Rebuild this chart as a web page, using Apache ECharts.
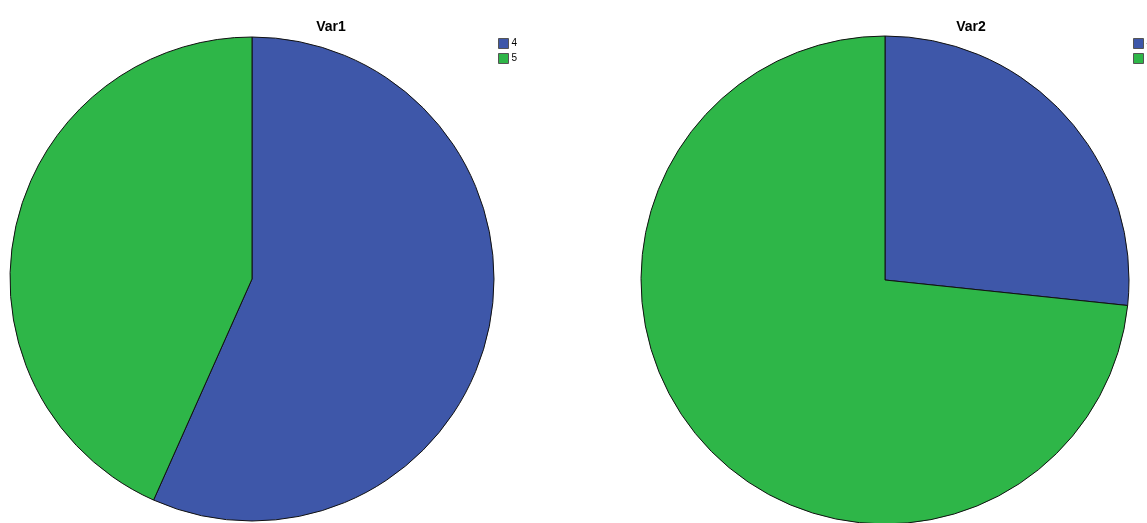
<!DOCTYPE html>
<html>
<head>
<meta charset="utf-8">
<style>
  html, body { margin: 0; padding: 0; background: #fff; }
  #chart { width: 1147px; height: 523px; }
</style>
<script src="https://cdn.jsdelivr.net/npm/echarts@6/dist/echarts.min.js"></script>
</head>
<body>
<div id="chart"></div>
<script>
// category labels and counts per variable
var categories = ['4', '5'];
var var1Counts = [17, 13];
var var2Counts = [8, 22];
var colors = ['#3e57a9', '#2eb648'];

(function() {
  var chart = echarts.init(document.getElementById('chart'), null, { renderer: 'canvas' });

  function pieData(counts) {
    return categories.map(function(c, i) {
      return { name: c, value: counts[i], itemStyle: { color: colors[i] } };
    });
  }

  function legend(left) {
    return {
      orient: 'vertical',
      left: left,
      top: 38,
      padding: 0,
      icon: 'rect',
      itemWidth: 10,
      itemHeight: 10,
      itemGap: 4,
      selectedMode: false,
      data: categories,
      itemStyle: { borderColor: '#555', borderWidth: 1 },
      textStyle: { fontFamily: 'Liberation Sans', fontSize: 10, color: '#000', padding: [0, 0, 0, -2] }
    };
  }

  chart.setOption({
    animation: false,
    title: [
      { text: 'Var1', left: 326, top: 15, textAlign: 'center',
        textStyle: { fontFamily: 'Liberation Sans', fontSize: 14, fontWeight: 'bold', color: '#000' } },
      { text: 'Var2', left: 966, top: 15, textAlign: 'center',
        textStyle: { fontFamily: 'Liberation Sans', fontSize: 14, fontWeight: 'bold', color: '#000' } }
    ],
    legend: [legend(498), legend(1133)],
    series: [
      {
        type: 'pie',
        center: [252, 279],
        radius: 242,
        startAngle: 90,
        clockwise: true,
        label: { show: false },
        labelLine: { show: false },
        emphasis: { disabled: true },
        itemStyle: { borderColor: '#111', borderWidth: 1 },
        data: pieData(var1Counts)
      },
      {
        type: 'pie',
        center: [885, 280],
        radius: 244,
        startAngle: 90,
        clockwise: true,
        label: { show: false },
        labelLine: { show: false },
        emphasis: { disabled: true },
        itemStyle: { borderColor: '#111', borderWidth: 1 },
        data: pieData(var2Counts)
      }
    ]
  });
  window.addEventListener('resize', function() { chart.resize(); });
})();
</script>
</body>
</html>
